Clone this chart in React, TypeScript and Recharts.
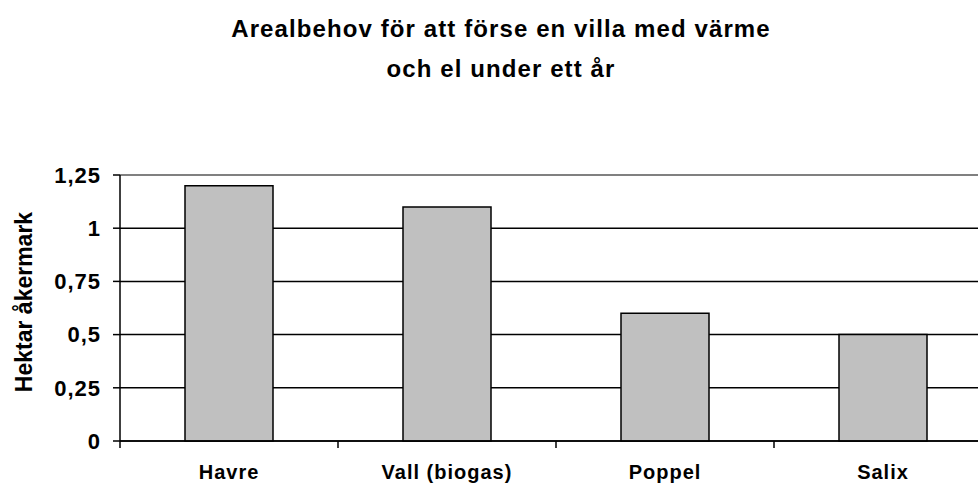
import React from "react";
import {
  BarChart,
  Bar,
  XAxis,
  YAxis,
  CartesianGrid,
  ReferenceLine,
} from "recharts";

const categories = ["Havre", "Vall (biogas)", "Poppel", "Salix"];
const hektar = [1.2, 1.1, 0.6, 0.5];
const yTicks = [0, 0.25, 0.5, 0.75, 1, 1.25];
const titleLines = ["Arealbehov för att förse en villa med värme", "och el under ett år"];
const yLabel = "Hektar åkermark";

const data = categories.map((name, i) => ({ name, value: hektar[i] }));

const FONT = "'Liberation Sans', Arial, Helvetica, sans-serif";

const fmt = (v: number) => String(v).replace(".", ",");

function XTick(props: any) {
  const { x, y, payload } = props;
  const half = payload && payload.offset ? payload.offset : 0;
  return (
    <g>
      <line x1={x - half} y1={y - 8} x2={x - half} y2={y - 1} stroke="#000" strokeWidth={1.5} />
      <text
        x={x}
        y={y + 30}
        textAnchor="middle"
        fontFamily={FONT}
        fontWeight="bold"
        fontSize={20}
        letterSpacing={1}
        fill="#000"
      >
        {payload.value}
      </text>
    </g>
  );
}

function YLabel(props: any) {
  const vb = props.viewBox || { x: 0, y: 175, width: 120, height: 266 };
  const lx = vb.x + 32;
  const ly = vb.y + vb.height / 2 - 6;
  return (
    <text
      x={lx}
      y={ly}
      transform={`rotate(-90, ${lx}, ${ly})`}
      textAnchor="middle"
      fontFamily={FONT}
      fontWeight="bold"
      fontSize={23}
      fill="#000"
    >
      {yLabel}
    </text>
  );
}

export default function App() {
  return (
    <div
      style={{
        position: "fixed",
        left: 0,
        top: 0,
        width: 978,
        height: 485,
        overflow: "hidden",
        background: "#fff",
      }}
    >
      <div style={{ position: "absolute", left: 0, top: 0 }}>
        <BarChart
          width={1000}
          height={485}
          data={data}
          margin={{ top: 175, right: 8, bottom: 0, left: 0 }}
        >
          <text
            x={501}
            y={37}
            textAnchor="middle"
            fontFamily={FONT}
            fontWeight="bold"
            fontSize={24}
            letterSpacing={1.1}
            fill="#000"
          >
            {titleLines[0]}
          </text>
          <text
            x={501}
            y={77}
            textAnchor="middle"
            fontFamily={FONT}
            fontWeight="bold"
            fontSize={24}
            letterSpacing={1.1}
            fill="#000"
          >
            {titleLines[1]}
          </text>
          <CartesianGrid vertical={false} stroke="#000" strokeWidth={1.5} />
          <ReferenceLine y={1.25} stroke="#808080" strokeWidth={2} />
          <XAxis
            dataKey="name"
            height={44}
            axisLine={{ stroke: "#000", strokeWidth: 1.5 }}
            tickLine={false}
            tick={<XTick />}
            interval={0}
          />
          <YAxis
            width={120}
            domain={[0, 1.25]}
            ticks={yTicks}
            tickFormatter={fmt}
            axisLine={{ stroke: "#000", strokeWidth: 1.5 }}
            tickLine={{ stroke: "#000", strokeWidth: 1.5 }}
            tickSize={7}
            tickMargin={12}
            tick={{
              fill: "#000",
              fontSize: 22,
              fontWeight: "bold",
              fontFamily: FONT,
              letterSpacing: 1,
            }}
            label={<YLabel />}
          />
          <Bar
            dataKey="value"
            fill="#c0c0c0"
            stroke="#000"
            strokeWidth={1.5}
            barSize={88}
            isAnimationActive={false}
          />
        </BarChart>
      </div>
    </div>
  );
}
